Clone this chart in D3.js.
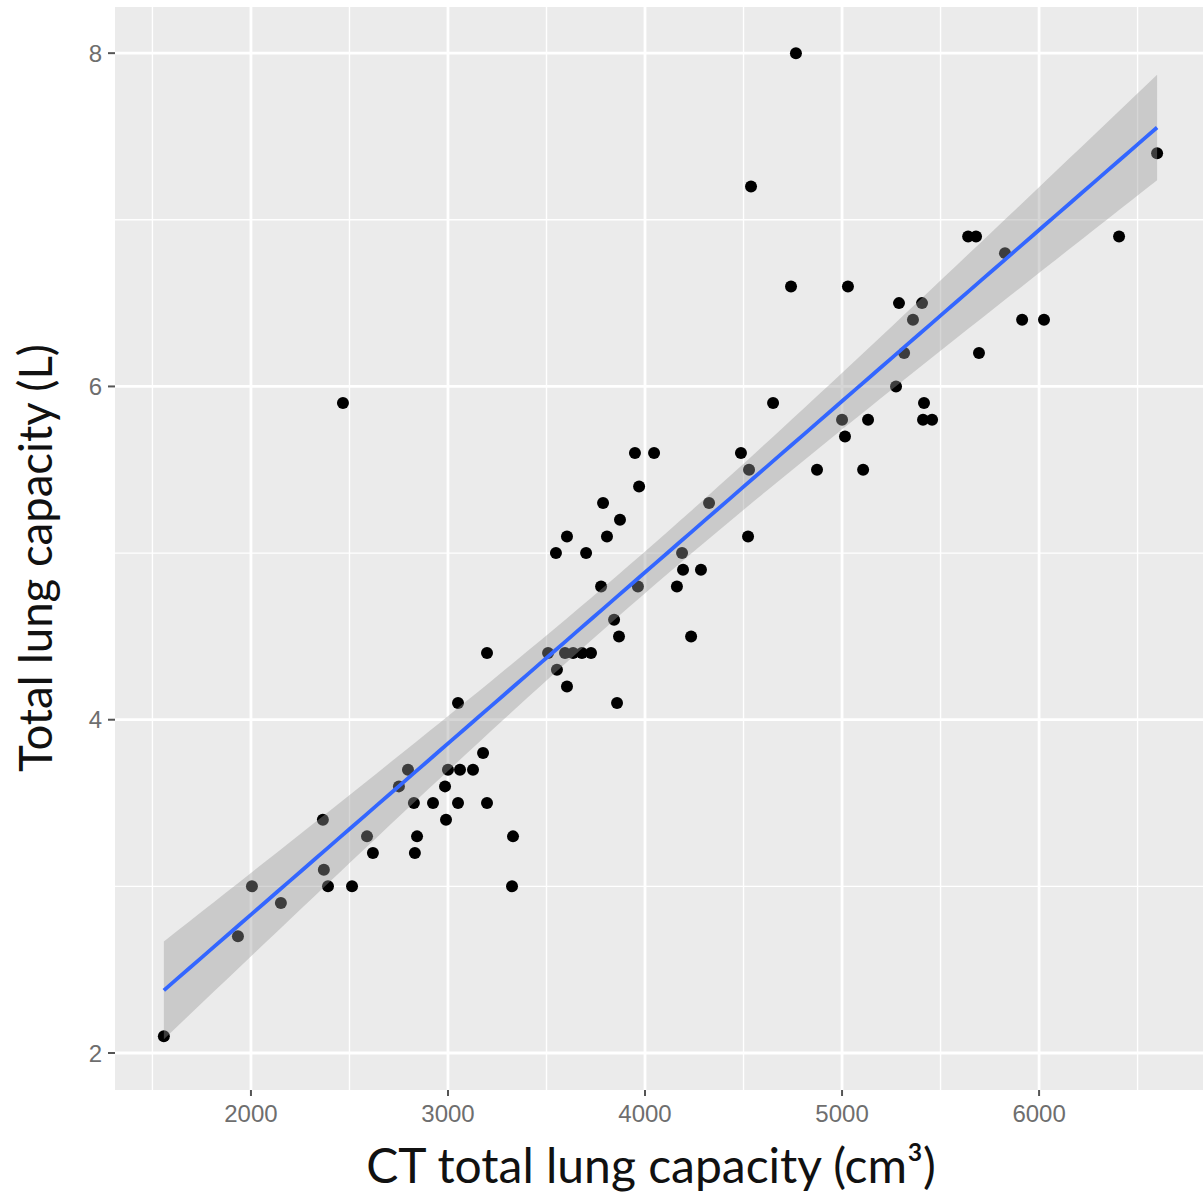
<!DOCTYPE html>
<html>
<head>
    <script src="https://d3js.org/d3.v7.min.js"></script>
    <style>
        body { margin: 0; background: #fff; }
        .tick-label { font-family: "Liberation Sans", Arial, sans-serif; font-size: 24px; fill: #6e6e6e; }
        .axis-title { font-family: Lato, "Open Sans", sans-serif; fill: #111; }
    </style>
</head>
<body>
    <div id="chart"></div>

    <script>
        // CT total lung capacity (cm3) and measured total lung capacity (L)
        const ctTlc = [
            1558, 1934, 2005, 2152, 2365, 2370, 2391, 2467, 2513, 2589,
            2619, 2751, 2797, 2827, 2832, 2843, 2924, 2985, 2990, 3000,
            3051, 3051, 3061, 3127, 3178, 3198, 3198, 3325, 3330, 3508,
            3553, 3548, 3604, 3604, 3594, 3635, 3680, 3726, 3701, 3777,
            3787, 3807, 3843, 3858, 3868, 3873, 3949, 3964, 3970, 4046,
            4162, 4188, 4193, 4234, 4284, 4325, 4487, 4523, 4528, 4538,
            4650, 4741, 4766, 4873, 5000, 5015, 5030, 5107, 5132, 5274,
            5289, 5315, 5360, 5406, 5416, 5411, 5457, 5640, 5680, 5695,
            5827, 5914, 6025, 6406, 6599
        ];
        const tlc = [
            2.1, 2.7, 3.0, 2.9, 3.4, 3.1, 3.0, 5.9, 3.0, 3.3,
            3.2, 3.6, 3.7, 3.5, 3.2, 3.3, 3.5, 3.6, 3.4, 3.7,
            3.5, 4.1, 3.7, 3.7, 3.8, 3.5, 4.4, 3.0, 3.3, 4.4,
            4.3, 5.0, 4.2, 5.1, 4.4, 4.4, 4.4, 4.4, 5.0, 4.8,
            5.3, 5.1, 4.6, 4.1, 4.5, 5.2, 5.6, 4.8, 5.4, 5.6,
            4.8, 5.0, 4.9, 4.5, 4.9, 5.3, 5.6, 5.1, 5.5, 7.2,
            5.9, 6.6, 8.0, 5.5, 5.8, 5.7, 6.6, 5.5, 5.8, 6.0,
            6.5, 6.2, 6.4, 6.5, 5.9, 5.8, 5.8, 6.9, 6.9, 6.2,
            6.8, 6.4, 6.4, 6.9, 7.4
        ];

        const xMajor = [2000, 3000, 4000, 5000, 6000];
        const xMinor = [1500, 2500, 3500, 4500, 5500, 6500];
        const yMajor = [2, 4, 6, 8];
        const yMinor = [3, 5, 7];

        const W = 1203, H = 1200;
        const panel = { left: 115, right: 1203, top: 7, bottom: 1090 };

        const x = d3.scaleLinear().domain([1310, 6832]).range([panel.left, panel.right]);
        const y = d3.scaleLinear().domain([1.778, 8.277]).range([panel.bottom, panel.top]);

        const svg = d3.select("#chart").append("svg")
            .attr("width", W)
            .attr("height", H);

        // panel background
        svg.append("rect")
            .attr("x", panel.left).attr("y", panel.top)
            .attr("width", panel.right - panel.left)
            .attr("height", panel.bottom - panel.top)
            .attr("fill", "#ebebeb");

        const grid = svg.append("g").attr("stroke", "#fff");
        grid.selectAll(".xminor").data(xMinor).join("line")
            .attr("x1", d => x(d)).attr("x2", d => x(d))
            .attr("y1", panel.top).attr("y2", panel.bottom)
            .attr("stroke-width", 1.4);
        grid.selectAll(".yminor").data(yMinor).join("line")
            .attr("y1", d => y(d)).attr("y2", d => y(d))
            .attr("x1", panel.left).attr("x2", panel.right)
            .attr("stroke-width", 1.4);
        grid.selectAll(".xmajor").data(xMajor).join("line")
            .attr("x1", d => x(d)).attr("x2", d => x(d))
            .attr("y1", panel.top).attr("y2", panel.bottom)
            .attr("stroke-width", 2.8);
        grid.selectAll(".ymajor").data(yMajor).join("line")
            .attr("y1", d => y(d)).attr("y2", d => y(d))
            .attr("x1", panel.left).attr("x2", panel.right)
            .attr("stroke-width", 2.8);

        // points
        const pts = ctTlc.map((v, i) => ({ x: v, y: tlc[i] }));
        svg.append("g").selectAll("circle").data(pts).join("circle")
            .attr("cx", d => x(d.x))
            .attr("cy", d => y(d.y))
            .attr("r", 6)
            .attr("fill", "#000");

        // linear fit with 95% confidence band (like geom_smooth(method = "lm"))
        const n = pts.length;
        const mx = d3.mean(pts, d => d.x), my = d3.mean(pts, d => d.y);
        const sxx = d3.sum(pts, d => (d.x - mx) ** 2);
        const sxy = d3.sum(pts, d => (d.x - mx) * (d.y - my));
        const b = sxy / sxx, a = my - b * mx;
        const sse = d3.sum(pts, d => (d.y - a - b * d.x) ** 2);
        const sigma = Math.sqrt(sse / (n - 2));
        const tCrit = 1.989;
        const xs = d3.range(80).map(i => d3.min(ctTlc) + i * (d3.max(ctTlc) - d3.min(ctTlc)) / 79);
        const fit = xs.map(v => {
            const yh = a + b * v;
            const se = sigma * Math.sqrt(1 / n + (v - mx) ** 2 / sxx);
            return { x: v, y: yh, lo: yh - tCrit * se, hi: yh + tCrit * se };
        });

        svg.append("path")
            .datum(fit)
            .attr("fill", "#999")
            .attr("fill-opacity", 0.4)
            .attr("d", d3.area().x(d => x(d.x)).y0(d => y(d.lo)).y1(d => y(d.hi)));

        svg.append("path")
            .datum(fit)
            .attr("fill", "none")
            .attr("stroke", "#3366ff")
            .attr("stroke-width", 3.8)
            .attr("d", d3.line().x(d => x(d.x)).y(d => y(d.y)));

        // axes
        const xAxis = svg.append("g");
        xAxis.selectAll("line").data(xMajor).join("line")
            .attr("x1", d => x(d)).attr("x2", d => x(d))
            .attr("y1", panel.bottom).attr("y2", panel.bottom + 6)
            .attr("stroke", "#555").attr("stroke-width", 2);
        xAxis.selectAll("text").data(xMajor).join("text")
            .attr("class", "tick-label")
            .attr("x", d => x(d))
            .attr("y", panel.bottom + 32)
            .attr("text-anchor", "middle")
            .text(d => d);

        const yAxis = svg.append("g");
        yAxis.selectAll("line").data(yMajor).join("line")
            .attr("y1", d => y(d)).attr("y2", d => y(d))
            .attr("x1", panel.left - 7).attr("x2", panel.left)
            .attr("stroke", "#555").attr("stroke-width", 2);
        yAxis.selectAll("text").data(yMajor).join("text")
            .attr("class", "tick-label")
            .attr("x", panel.left - 13)
            .attr("y", d => y(d) + 8.5)
            .attr("text-anchor", "end")
            .text(d => d);

        svg.append("text")
            .attr("class", "axis-title")
            .attr("x", 651)
            .attr("y", 1183)
            .attr("text-anchor", "middle")
            .style("font-size", "48px")
            .text("CT total lung capacity (cm³)");

        svg.append("text")
            .attr("class", "axis-title")
            .attr("transform", "translate(52,558) rotate(-90)")
            .attr("text-anchor", "middle")
            .style("font-size", "45.5px")
            .text("Total lung capacity (L)");
    </script>
</body>
</html>
